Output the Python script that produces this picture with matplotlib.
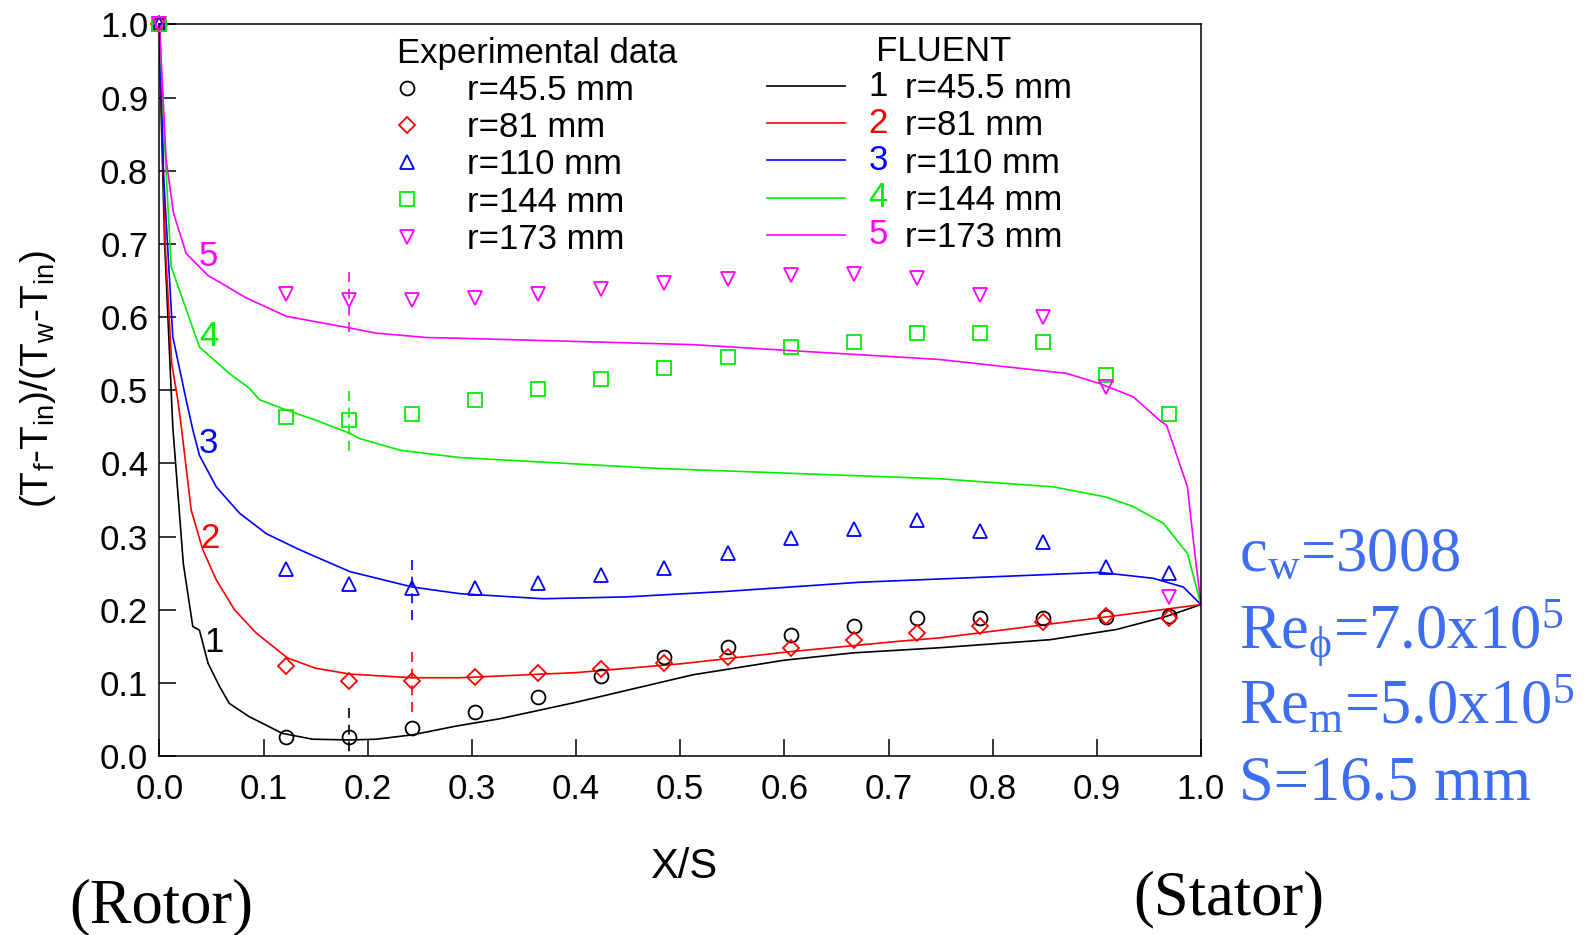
import numpy as np
import matplotlib
matplotlib.use('Agg')
import matplotlib.pyplot as plt
from matplotlib.lines import Line2D
from matplotlib.text import Text
from matplotlib.legend_handler import HandlerBase

plt.rcParams['font.family'] = ['Liberation Sans', 'DejaVu Sans']
plt.rcParams['mathtext.default'] = 'regular'

# measurement stations (mm from rotor) and gap width
probe_mm = [0, 2, 3, 4, 5, 6, 7, 8, 9, 10, 11, 12, 13, 14, 15, 16]
gap_mm = 16.5

radii = ['r=45.5 mm', 'r=81 mm', 'r=110 mm', 'r=144 mm', 'r=173 mm']
colors = ['black', '#ff0000', '#0000ff', '#00ee00', '#ff00ff']

exp_r1 = [1.0, 0.026, 0.026, 0.038, 0.060, 0.081, 0.109, 0.136, 0.149, 0.165, 0.178, 0.188, 0.188, 0.188, 0.190, 0.192]
exp_r2 = [1.0, 0.123, 0.103, 0.103, 0.108, 0.113, 0.119, 0.127, 0.135, 0.148, 0.159, 0.168, 0.178, 0.183, 0.191, 0.188]
exp_r3 = [1.0, 0.256, 0.235, 0.229, 0.229, 0.237, 0.247, 0.257, 0.278, 0.298, 0.310, 0.322, 0.308, 0.293, 0.259, 0.250]
exp_r4 = [1.0, 0.464, 0.459, 0.468, 0.487, 0.501, 0.516, 0.530, 0.545, 0.559, 0.566, 0.578, 0.578, 0.566, 0.521, 0.468]
exp_r5 = [1.0, 0.632, 0.623, 0.623, 0.626, 0.632, 0.638, 0.647, 0.652, 0.657, 0.659, 0.654, 0.630, 0.600, 0.505, 0.218]

# one error bar per series: index into probe_mm, half height
err_idx = [2, 3, 3, 2, 2]
err_half = [0.043, 0.043, 0.043, 0.042, 0.043]

# FLUENT profiles
cfd1_x = [0, 0.0016, 0.005, 0.0128, 0.0229, 0.032, 0.0384, 0.0466, 0.0577, 0.067, 0.086, 0.118, 0.147, 0.183, 0.208, 0.243, 0.285, 0.327, 0.4, 0.512, 0.6, 0.666, 0.749, 0.855, 0.919, 0.967, 1.0]
cfd1_y = [1.0, 0.88, 0.70, 0.45, 0.263, 0.177, 0.172, 0.127, 0.095, 0.072, 0.054, 0.031, 0.023, 0.022, 0.023, 0.029, 0.041, 0.051, 0.0735, 0.111, 0.131, 0.141, 0.148, 0.159, 0.173, 0.191, 0.207]
cfd2_x = [0, 0.0055, 0.0117, 0.0176, 0.0213, 0.0305, 0.0416, 0.0545, 0.072, 0.093, 0.123, 0.150, 0.183, 0.243, 0.288, 0.4, 0.5, 0.608, 0.711, 0.749, 0.903, 1.0]
cfd2_y = [1.0, 0.70, 0.537, 0.487, 0.446, 0.336, 0.282, 0.241, 0.200, 0.168, 0.134, 0.120, 0.112, 0.107, 0.107, 0.114, 0.126, 0.143, 0.157, 0.1615, 0.189, 0.207]
cfd3_x = [0, 0.004, 0.0128, 0.0256, 0.032, 0.0384, 0.0545, 0.0768, 0.1025, 0.1345, 0.183, 0.243, 0.288, 0.368, 0.448, 0.544, 0.672, 0.749, 0.903, 0.954, 0.983, 1.0]
cfd3_y = [1.0, 0.792, 0.573, 0.487, 0.446, 0.411, 0.368, 0.332, 0.304, 0.282, 0.252, 0.231, 0.222, 0.215, 0.2175, 0.225, 0.2375, 0.242, 0.251, 0.243, 0.231, 0.207]
cfd4_x = [0, 0.005, 0.0112, 0.0384, 0.067, 0.086, 0.0961, 0.118, 0.150, 0.183, 0.192, 0.231, 0.288, 0.48, 0.749, 0.858, 0.909, 0.935, 0.964, 0.987, 1.0]
cfd4_y = [1.0, 0.837, 0.669, 0.559, 0.523, 0.503, 0.487, 0.475, 0.459, 0.441, 0.434, 0.418, 0.408, 0.393, 0.379, 0.368, 0.354, 0.341, 0.318, 0.277, 0.207]
cfd5_x = [0, 0.0064, 0.0135, 0.0256, 0.0464, 0.0836, 0.122, 0.183, 0.208, 0.257, 0.288, 0.512, 0.608, 0.749, 0.871, 0.903, 0.935, 0.961, 0.967, 0.987, 0.993, 1.0]
cfd5_y = [1.0, 0.815, 0.742, 0.687, 0.657, 0.626, 0.601, 0.585, 0.578, 0.572, 0.571, 0.5623, 0.554, 0.542, 0.523, 0.509, 0.491, 0.458, 0.452, 0.368, 0.291, 0.207]

# curve numbers written next to the profiles
num_x = [0.052, 0.0485, 0.0466, 0.0475, 0.0466]
num_y = [0.155, 0.297, 0.427, 0.573, 0.683]

exp_all = [exp_r1, exp_r2, exp_r3, exp_r4, exp_r5]
cfd_all = [(cfd1_x, cfd1_y), (cfd2_x, cfd2_y), (cfd3_x, cfd3_y), (cfd4_x, cfd4_y), (cfd5_x, cfd5_y)]
markers = ['o', 'D', '^', 's', 'v']
msizes = [10, 8.5, 10, 9.5, 10]

x_exp = np.array(probe_mm) / gap_mm


class NumberedLine(HandlerBase):
    def __init__(self, num, color):
        super().__init__()
        self.num = num
        self.color = color

    def create_artists(self, legend, orig_handle, xdescent, ydescent,
                       width, height, fontsize, trans):
        y = height / 2 - ydescent
        ln = Line2D([-xdescent, -xdescent + 0.64 * width], [y, y],
                    color=orig_handle.get_color(), lw=orig_handle.get_linewidth())
        ln.set_transform(trans)
        t = Text(-xdescent + 0.83 * width, y, self.num, color=self.color,
                 fontsize=fontsize, ha='left', va='center')
        t.set_transform(trans)
        return [ln, t]


fig = plt.figure(figsize=(15.93, 9.35), dpi=100)
ax = fig.add_axes([0.1001, 0.1914, 0.6538, 0.7825])

exp_handles = []
for i in range(5):
    h, = ax.plot(x_exp, exp_all[i], linestyle='none', marker=markers[i],
                 mfc='none', mec=colors[i], ms=msizes[i], mew=1.3,
                 clip_on=False, zorder=3)
    exp_handles.append(h)
    eb = ax.errorbar([x_exp[err_idx[i]]], [exp_all[i][err_idx[i]]], yerr=err_half[i],
                     fmt='none', ecolor=colors[i], elinewidth=1.2, capsize=0)
    eb[2][0].set_linestyle((0, (6, 4)))

cfd_handles = []
handler_map = {}
for i in range(5):
    h, = ax.plot(cfd_all[i][0], cfd_all[i][1], color=colors[i], lw=1.2)
    cfd_handles.append(h)
    handler_map[h] = NumberedLine(str(i + 1), colors[i])
    ax.text(num_x[i], num_y[i], str(i + 1), color=colors[i], fontsize=25,
            ha='center', va='center')

ax.set_xlim(0, 1)
ax.set_ylim(0, 1)
ax.set_xticks(np.arange(0, 1.01, 0.1))
ax.set_yticks(np.arange(0, 1.01, 0.1))
ax.xaxis.set_major_formatter(matplotlib.ticker.FormatStrFormatter('%.1f'))
ax.yaxis.set_major_formatter(matplotlib.ticker.FormatStrFormatter('%.1f'))
ax.tick_params(direction='in', length=12, width=1.1, labelsize=25,
               top=False, right=False)
ax.tick_params(axis='x', pad=12)
ax.tick_params(axis='y', pad=8)
for s in ax.spines.values():
    s.set_linewidth(1.1)

ax.set_xlabel('X/S', fontsize=30)
ax.xaxis.set_label_coords(0.503, -0.124)
ax.set_ylabel('(T$_f$-T$_{in}$)/(T$_w$-T$_{in}$)', fontsize=28)
ax.yaxis.set_label_coords(-0.097, 0.515)

leg1 = ax.legend(exp_handles, radii, title='Experimental data',
                 loc='upper left', bbox_to_anchor=(0.228, 0.983),
                 frameon=False, fontsize=25, title_fontsize=25,
                 borderpad=0, borderaxespad=0, labelspacing=0.12,
                 handlelength=0.6, handletextpad=1.43, markerscale=1.0,
                 numpoints=1, alignment='left')
ax.add_artist(leg1)
ax.legend(cfd_handles, radii, title='     FLUENT', handler_map=handler_map,
          loc='upper left', bbox_to_anchor=(0.5834, 0.9855),
          frameon=False, fontsize=25, title_fontsize=25,
          borderpad=0, borderaxespad=0, labelspacing=0.12,
          handlelength=3.51, handletextpad=0.45)

W, H = 1593, 935
blue = '#3d6ef2'
serif = ['Liberation Serif', 'DejaVu Serif']
params = ['c$_w$=3008', 'Re$_{ϕ}$=7.0x10$^5$', 'Re$_m$=5.0x10$^5$', 'S=16.5 mm']
base_y = [571, 648, 724, 800]
for txt, by in zip(params, base_y):
    fig.text(1239 / W, 1 - by / H, txt, color=blue, fontsize=45,
             family=serif, va='baseline', ha='left')

fig.text(69 / W, 1 - 922 / H, '(Rotor)', fontsize=45, family=serif, va='baseline')
fig.text(1133 / W, 1 - 914 / H, '(Stator)', fontsize=45, family=serif, va='baseline')

fig.savefig('out.png', dpi=100)
